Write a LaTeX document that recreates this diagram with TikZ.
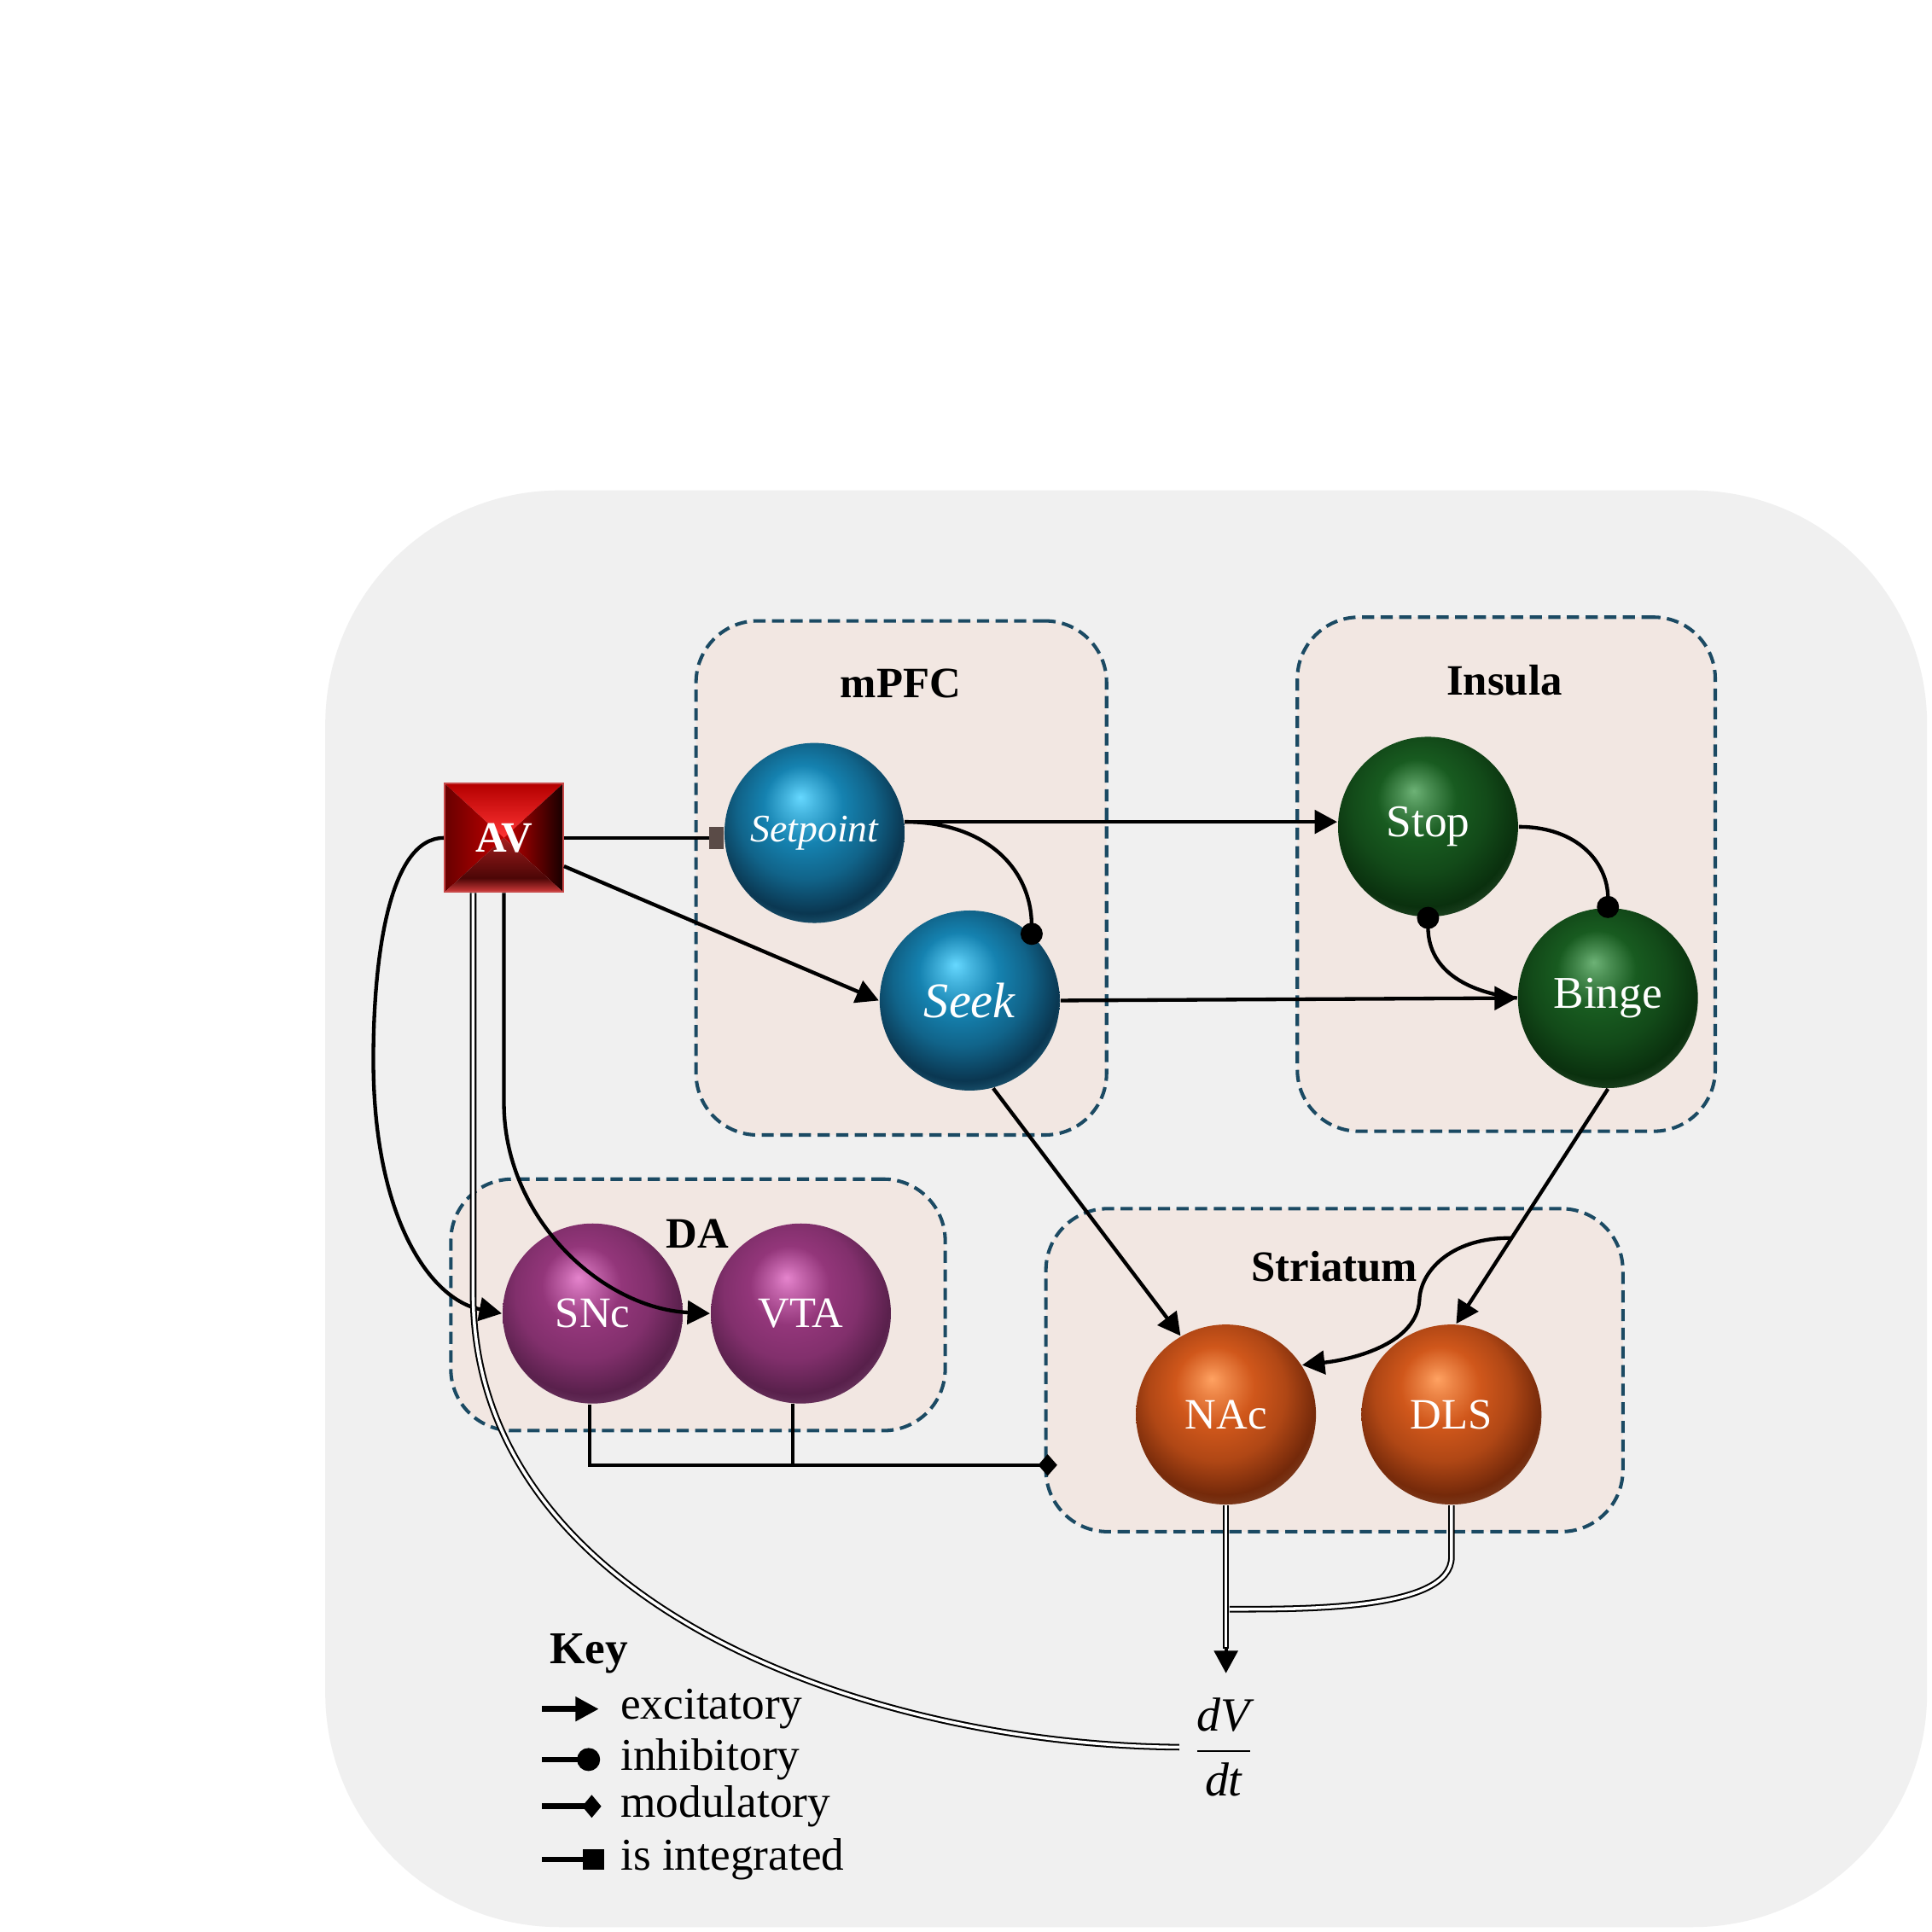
\documentclass[tikz,border=0pt]{standalone}
\usepackage{fontspec}
\setmainfont{Liberation Serif}
\usetikzlibrary{arrows.meta,calc,fadings}

\newcommand\fsz[1]{\fontsize{#1}{14}\selectfont}

\definecolor{panelgray}{HTML}{F0F0F0}
\definecolor{regfill}{HTML}{F2E7E2}
\definecolor{regline}{HTML}{1B4A63}
\definecolor{intcol}{HTML}{5A4B47}
% blue
\definecolor{bhi}{HTML}{66D8FF}
\definecolor{bmid}{HTML}{1582B0}
\definecolor{bdk}{HTML}{0A3650}
\definecolor{bdkst}{HTML}{021622}
\definecolor{brim}{HTML}{4CC0F0}
% green
\definecolor{ghi}{HTML}{6DB276}
\definecolor{gmid}{HTML}{185B20}
\definecolor{gdk}{HTML}{0A300E}
\definecolor{gdkst}{HTML}{020E03}
\definecolor{grim}{HTML}{5A9A60}
% purple
\definecolor{phi}{HTML}{E584CD}
\definecolor{pmid}{HTML}{93367A}
\definecolor{pdk}{HTML}{58204B}
\definecolor{pdkst}{HTML}{2A0D23}
\definecolor{prim}{HTML}{CC7ABC}
% orange
\definecolor{ohi}{HTML}{FFA262}
\definecolor{omid}{HTML}{D0571B}
\definecolor{odk}{HTML}{74290A}
\definecolor{odkst}{HTML}{280A02}
\definecolor{orim}{HTML}{F0905A}
% AV
\definecolor{avtop}{HTML}{B40000}
\definecolor{avbright}{HTML}{FF3434}
\definecolor{avleft}{HTML}{680000}
\definecolor{avmid}{HTML}{C40000}
\definecolor{avright}{HTML}{160000}
\definecolor{avbot}{HTML}{D43C3C}
\definecolor{avbotdk}{HTML}{4C0606}
\definecolor{avbotup}{HTML}{A41E1E}
\definecolor{avedge}{HTML}{C84848}

\pgfdeclareradialshading{blueball}{\pgfpoint{-4bp}{10bp}}{color(0bp)=(bhi); color(4bp)=(bhi!60!bmid); color(11bp)=(bmid); color(19bp)=(bmid!60!bdk); color(27bp)=(bdk); color(34bp)=(bdkst); color(50bp)=(bdkst)}
\pgfdeclareradialshading{greenball}{\pgfpoint{-4bp}{10bp}}{color(0bp)=(ghi); color(4bp)=(ghi!60!gmid); color(11bp)=(gmid); color(19bp)=(gmid!60!gdk); color(27bp)=(gdk); color(34bp)=(gdkst); color(50bp)=(gdkst)}
\pgfdeclareradialshading{purpleball}{\pgfpoint{-4bp}{10bp}}{color(0bp)=(phi); color(4bp)=(phi!60!pmid); color(11bp)=(pmid); color(19bp)=(pmid!70!pdk); color(27bp)=(pdk); color(34bp)=(pdkst); color(50bp)=(pdkst)}
\pgfdeclareradialshading{orangeball}{\pgfpoint{-4bp}{10bp}}{color(0bp)=(ohi); color(4bp)=(ohi!60!omid); color(11bp)=(omid); color(19bp)=(omid!65!odk); color(27bp)=(odk); color(34bp)=(odkst); color(50bp)=(odkst)}
\pgfdeclareradialshading{rimshade}{\pgfpoint{-3bp}{8bp}}{color(0bp)=(pgftransparent!100); color(26bp)=(pgftransparent!100); color(31bp)=(pgftransparent!55); color(34bp)=(pgftransparent!10); color(50bp)=(pgftransparent!10)}
\pgfdeclarefading{rimfade}{\pgfuseshading{rimshade}}
\pgfdeclareverticalshading{avbotshade}{100bp}{color(0bp)=(avbot); color(25bp)=(avbot); color(30bp)=(avbot!60!avbotdk); color(38bp)=(avbotdk); color(58bp)=(avbotdk!50!avbotup); color(75bp)=(avbotup); color(100bp)=(avbotup)}

\begin{document}
\begin{tikzpicture}[x=0.01cm,y=-0.01cm,
  region/.style={draw=regline, fill=regfill, line width=0.8pt, dash pattern=on 2.8pt off 1.5pt, rounded corners=0.5cm, inner sep=0pt},
  reglabel/.style={font=\bfseries\fsz{10}, inner sep=0pt},
  sphere/.style 2 args={circle, minimum size=1.46cm, inner sep=0pt, text=white, shade, shading=#1,
     path picture={\fill[#2, path fading=rimfade] (path picture bounding box.south west) rectangle (path picture bounding box.north east);}},
  avbox/.style={rectangle, minimum width=0.96cm, minimum height=0.88cm, inner sep=0pt, draw=avedge, line width=0.4pt, text=white, font=\bfseries\fsz{10}},
  conn/.style={draw=black, line width=0.85pt},
  exc/.style={conn, -{Triangle[length=5.2pt,width=5.4pt]}},
  inh/.style={conn, -{Circle[length=5.1pt,width=5.1pt]}, shorten >=-2.5pt},
  mod/.style={conn, -{Turned Square[length=4.4pt,width=5pt]}},
  intg/.style={conn, -{Rectangle[length=3.4pt,width=5.2pt,color=intcol]}},
  dbl/.style={draw=black, line width=0.4pt, double=white, double distance=0.7pt},
  legline/.style={draw=black, line width=1.3pt},
  keytext/.style={anchor=west, inner sep=0pt, font=\fsz{10.5}},
  keyhead/.style={inner sep=0pt, font=\bfseries\fsz{10.5}}
]
\useasboundingbox (0,0) rectangle (1568,1568);
\fill[white] (0,0) rectangle (1568,1568);
\fill[panelgray, rounded corners=1.9cm] (264,398) rectangle (1564,1564);

% regions
\node[region, minimum width=3.33cm, minimum height=4.17cm] (mpfc) at (731.5,712.5) {};
\node[region, minimum width=3.39cm, minimum height=4.17cm] (insula) at (1222.5,709.5) {};
\node[region, minimum width=4.01cm, minimum height=2.04cm] (da) at (566.5,1059) {};
\node[region, minimum width=4.68cm, minimum height=2.62cm] (striatum) at (1083,1112) {};
\node[reglabel] (mpfcl) at (731,555) {mPFC};
\node[reglabel] (insulal) at (1221,552) {Insula};
\node[reglabel] (dal) at (566,1001) {DA};
\node[reglabel] (striatuml) at (1083,1028) {Striatum};

% spheres
\node[sphere={blueball}{brim}, font=\itshape\fsz{9}] (Setpoint) at (661,676) {Setpoint};
\node[sphere={blueball}{brim}, font=\itshape\fsz{11.5}] (Seek) at (787,812) {Seek};
\node[sphere={greenball}{grim}, font=\fsz{10.5}] (Stop) at (1159,671) {Stop};
\node[sphere={greenball}{grim}, font=\fsz{10.5}] (Binge) at (1305,810) {Binge};
\node[sphere={purpleball}{prim}, font=\fsz{10}] (SNc) at (481,1066) {SNc};
\node[sphere={purpleball}{prim}, font=\fsz{10}] (VTA) at (650,1066) {VTA};
\node[sphere={orangeball}{orim}, font=\fsz{10}] (NAc) at (995,1148) {NAc};
\node[sphere={orangeball}{orim}, font=\fsz{10}] (DLS) at (1178,1148) {DLS};

% AV pyramid box
\shade[top color=avtop, bottom color=avbright] (361,636) -- (457,636) -- (409,680) -- cycle;
\shade[left color=avleft, right color=avmid] (361,636) -- (409,680) -- (361,724) -- cycle;
\shade[left color=avmid, right color=avright] (457,636) -- (409,680) -- (457,724) -- cycle;
\shade[shading=avbotshade] (361,724) -- (409,680) -- (457,724) -- cycle;
\node[avbox] (AV) at (409,680) {AV};

% dV/dt
\node[inner sep=1pt, font=\fsz{11}] (dvdt) at (993,1418) {$\displaystyle\frac{\textit{dV}}{\textit{dt}}$};

% connectors
\draw[intg] (AV.east) -- (AV.east -| Setpoint.west);
\draw[exc] ($(AV.east)+(0,23)$) -- (Seek.west);
\draw[exc] (Setpoint.7) -- (Setpoint.7 -| Stop.west);
\draw[inh] (Setpoint.7) .. controls (800,667) and (837,705) .. (Seek.47);
\draw[exc] (Seek.east) -- (Binge.west);
\draw[inh] (Stop.east) .. controls (1280,671) and (1305,700) .. (Binge.north);
\draw[inh] (Binge.west) .. controls (1195,806) and (1159,790) .. (Stop.south);
\draw[exc] (Seek.-75) -- (NAc.120);
\draw[exc] (Binge.south) -- (DLS.87);
\coordinate (br) at ($(Binge.south)!0.635!(DLS.87)$);
\draw[exc] (br) .. controls (1180,1004) and (1153,1030) .. (1152,1055) .. controls (1150,1090) and (1100,1103) .. (NAc.33);
\draw[exc] (AV.west) .. controls (315,680) and (303,780) .. (303,860) .. controls (303,990) and (350,1055) .. (SNc.west);
\draw[exc] (AV.south) -- (409,895) .. controls (409,990) and (490,1062) .. (VTA.west);
\coordinate (avd) at ($(AV.south)+(-25,0)$);
\draw[dbl] (avd) -- (384,1050) .. controls (384,1300) and (700,1416) .. ($(dvdt.west)+(-6,0)$);
\coordinate (modend) at (858,1189);
\draw[conn] (VTA.-95) -- (VTA.-95 |- modend);
\draw[mod] (SNc.-92) |- (modend);
\coordinate (dvin) at (995,1358);
\coordinate (jn) at (998,1306);
\draw[dbl] (DLS.south) -- ($(DLS.south)+(0,42)$) .. controls ($(DLS.south)+(0,85)$) and (1060,1306) .. (jn);
\draw[dbl] (NAc.south) -- ($(dvin)+(0,-20)$);
\draw[exc] ($(dvin)+(0,-21)$) -- (dvin);

% key
\node[keyhead] (key) at (478,1342) {Key};
\node[keytext] (kexc) at (503,1387) {excitatory};
\node[keytext] (kinh) at (503,1428) {inhibitory};
\node[keytext] (kmod) at (503,1466) {modulatory};
\node[keytext] (kint) at (503,1509) {is integrated};
\draw[legline, -{Triangle[length=5.4pt,width=5.4pt]}] ($(kexc.west)+(-63,0)$) -- ($(kexc.west)+(-17,0)$);
\draw[legline, -{Circle[length=5.3pt,width=5.3pt]}] ($(kinh.west)+(-63,0)$) -- ($(kinh.west)+(-16,0)$);
\draw[legline, -{Turned Square[length=4.4pt,width=5.3pt]}] ($(kmod.west)+(-63,0)$) -- ($(kmod.west)+(-15,0)$);
\draw[legline, -{Rectangle[length=4.8pt,width=4.8pt]}] ($(kint.west)+(-63,0)$) -- ($(kint.west)+(-13,0)$);
\end{tikzpicture}
\end{document}
